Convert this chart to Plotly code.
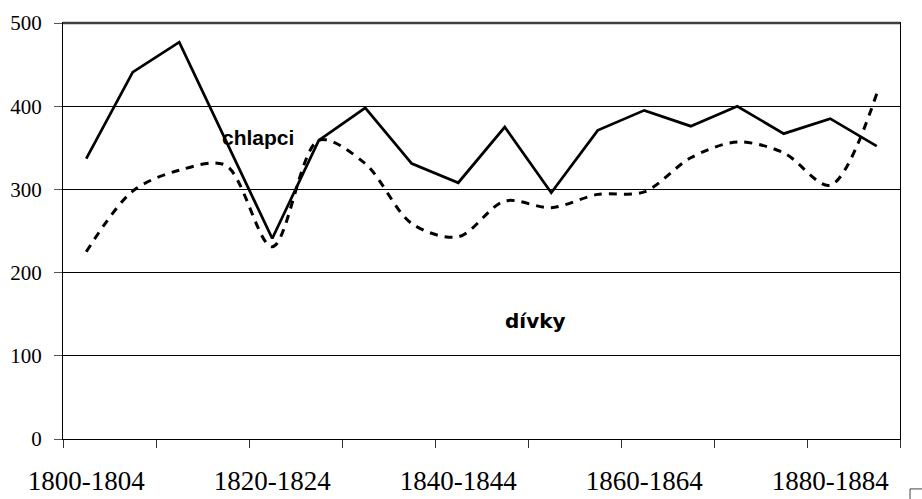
import plotly.graph_objects as go

categories = [f"{y}-{y+4}" for y in range(1800, 1890, 5)]
chlapci = [337, 441, 477, 358, 241, 359, 398, 331, 308, 375, 296, 371, 395, 376, 400, 367, 385, 352]
divky = [225, 298, 323, 329, 231, 359, 331, 259, 243, 286, 278, 294, 297, 338, 357, 344, 305, 415]
label_every = 4
y_ticks = [0, 100, 200, 300, 400, 500]

xs = list(range(len(categories)))
SERIF = "Liberation Serif"

fig = go.Figure()
fig.add_trace(go.Scatter(x=xs, y=divky, mode="lines", name="dívky",
                         line=dict(color="black", width=3, dash="8px,7px", shape="spline", smoothing=0.9)))
fig.add_trace(go.Scatter(x=xs, y=chlapci, mode="lines", name="chlapci",
                         line=dict(color="black", width=2.75)))

fig.update_layout(
    width=922, height=499,
    margin=dict(l=63, r=22, t=23, b=60, autoexpand=False),
    paper_bgcolor="white", plot_bgcolor="white",
    showlegend=False,
    font=dict(family=SERIF, color="black"),
    xaxis=dict(
        range=[-0.5, len(categories) - 0.5],
        tickvals=xs[::label_every],
        ticktext=categories[::label_every],
        ticks="",
        tickfont=dict(size=27, family=SERIF, color="black"),
        showgrid=False, zeroline=False,
        showline=True, linecolor="black", linewidth=1, mirror=True,
        ticklabelstandoff=18,
        minor=dict(ticks="outside", tick0=-0.5, dtick=2, ticklen=8, tickcolor="#333", tickwidth=1, showgrid=False),
    ),
    yaxis=dict(
        range=[0, 500],
        tickvals=y_ticks,
        ticks="outside", ticklen=8, tickcolor="#555", tickwidth=1,
        tickfont=dict(size=21, family=SERIF, color="black"),
        showgrid=True, gridcolor="black", gridwidth=1,
        zeroline=False,
        showline=True, linecolor="black", linewidth=1, mirror=True,
        ticklabelstandoff=8,
    ),
    annotations=[
        dict(text="<b>chlapci</b>", xref="paper", yref="paper", x=0.233, y=0.724,
             xanchor="center", yanchor="middle",
             showarrow=False, font=dict(family="Liberation Sans", size=21, color="black")),
        dict(text="<b>dívky</b>", xref="paper", yref="paper", x=0.564, y=0.283,
             xanchor="center", yanchor="middle",
             showarrow=False, font=dict(family="DejaVu Sans", size=20, color="black")),
    ],
    shapes=[
        dict(type="line", xref="paper", yref="paper", x0=0, x1=1, y0=1, y1=1,
             line=dict(color="#404040", width=2.5)),
        dict(type="path", xref="paper", yref="paper",
             path="M 1.012 -0.145 L 1.012 -0.12 L 1.05 -0.12",
             line=dict(color="#444", width=1)),
    ],
)

fig.write_html("out.html", config={"displayModeBar": False},
               post_script="document.body.style.margin='0px';document.body.style.padding='0px';")
